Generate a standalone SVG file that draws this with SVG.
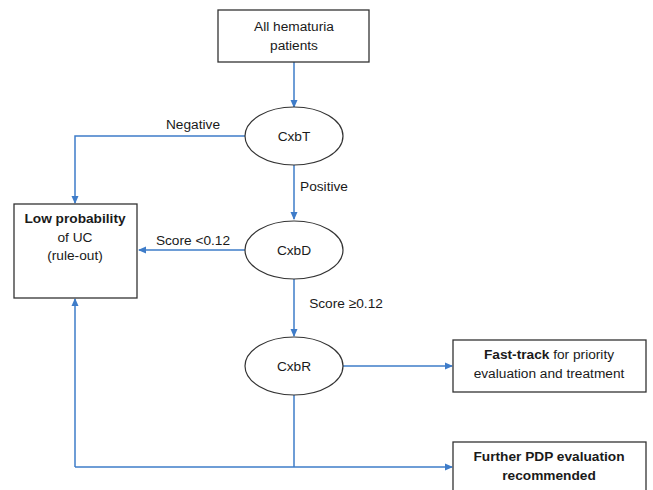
<svg xmlns="http://www.w3.org/2000/svg" width="653" height="490" viewBox="0 0 653 490">
<defs>
<marker id="ah" markerWidth="8" markerHeight="8" refX="7" refY="4" orient="auto" markerUnits="userSpaceOnUse">
<path d="M0,0.5 L8,4 L0,7.5 Z" fill="#3e7cc9"/>
</marker>
</defs>
<style>
.box{fill:#fff;stroke:#333;stroke-width:1.3}
.el{fill:#fff;stroke:#333;stroke-width:1.2}
.t{font-family:"Liberation Sans",Arial,sans-serif;font-size:13.7px;fill:#1a1a1a;text-anchor:middle}
.b{font-weight:bold}
.c{fill:none;stroke:#3e7cc9;stroke-width:1.5}
</style>
<rect width="653" height="490" fill="#fff"/>
<g id="connectors">
<path class="c" d="M294,62 V107" marker-end="url(#ah)"/>
<path class="c" d="M245,136 H75 V203" marker-end="url(#ah)"/>
<path class="c" d="M294,165 V219" marker-end="url(#ah)"/>
<path class="c" d="M245,250 H139" marker-end="url(#ah)"/>
<path class="c" d="M294,279 V336" marker-end="url(#ah)"/>
<path class="c" d="M343,366 H452" marker-end="url(#ah)"/>
<path class="c" d="M294,395 V467"/>
<path class="c" d="M75,467 H452" marker-end="url(#ah)"/>
<path class="c" d="M75,467 V299" marker-end="url(#ah)"/>
<text class="t" x="193" y="129">Negative</text>
<text class="t" x="324" y="191">Positive</text>
<text class="t" x="193" y="245">Score &lt;0.12</text>
<text class="t" x="346" y="308">Score ≥0.12</text>
</g>
<g id="start">
<rect class="box" x="218" y="10" width="151" height="52"/>
<text class="t" x="294" y="31">All hematuria</text>
<text class="t" x="294" y="50">patients</text>
</g>
<g id="cxbt">
<ellipse class="el" cx="294" cy="136" rx="49" ry="29"/>
<text class="t" x="294" y="141">CxbT</text>
</g>
<g id="cxbd">
<ellipse class="el" cx="294" cy="250" rx="49" ry="29"/>
<text class="t" x="294" y="255">CxbD</text>
</g>
<g id="cxbr">
<ellipse class="el" cx="294" cy="366" rx="49" ry="29"/>
<text class="t" x="294" y="371">CxbR</text>
</g>
<g id="lowprob">
<rect class="box" x="14" y="204" width="123" height="94"/>
<text class="t b" x="75" y="223">Low probability</text>
<text class="t" x="75" y="242">of UC</text>
<text class="t" x="75" y="260">(rule-out)</text>
</g>
<g id="fasttrack">
<rect class="box" x="453" y="340" width="193" height="52"/>
<text class="t" x="549" y="359"><tspan class="b">Fast-track</tspan> for priority</text>
<text class="t" x="549" y="378">evaluation and treatment</text>
</g>
<g id="further">
<rect class="box" x="453" y="442" width="193" height="60"/>
<text class="t b" x="549" y="461">Further PDP evaluation</text>
<text class="t b" x="549" y="480">recommended</text>
</g>
</svg>
